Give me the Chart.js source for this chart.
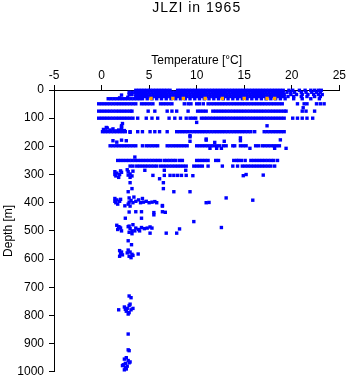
<!DOCTYPE html>
<html>
<head>
<meta charset="utf-8">
<script src="https://cdn.jsdelivr.net/npm/chart.js@4/dist/chart.umd.min.js"></script>
<style>
  html, body { margin: 0; padding: 0; background: #fff; }
  #wrap { width: 348px; height: 384px; }
</style>
</head>
<body>
<div id="wrap"><canvas id="chart"></canvas></div>
<script>
const plotTitle = 'JLZI in 1965'
const xTitle = 'Temperature [°C]'
const yTitle = 'Depth [m]'

// standard sampling depths (m) and the temperatures read along each streak
const rowDepths = [1, 8, 16, 23, 31, 49, 75, 100, 148, 198, 207, 250, 270]
const rowTemps = [
  [3.6,3.9,4.2,4.5,4.8,5.1,5.4,5.7,6.0,6.3,6.6,6.9,7.2,8.0,8.3,8.6,8.9,9.2,9.5,9.8,10.1,10.4,10.7,11.0,11.3,11.6,11.9,12.2,12.5,12.8,13.1,13.4,13.7,14.0,14.3,14.6,14.9,15.2,15.5,15.8,16.1,16.4,16.7,17.0,17.3,17.6,17.9,18.2,18.5,18.8,19.1,19.7,20.1,20.8,21.4,22.0,22.4,22.8,23.1],
  [2.9,3.2,3.5,3.8,4.1,4.4,4.7,5.0,5.3,5.6,5.9,6.2,6.5,6.8,7.1,7.4,7.7,8.0,8.3,8.6,8.9,9.2,9.5,9.8,10.1,10.4,10.7,11.0,11.3,11.6,11.9,12.2,12.5,12.8,13.1,13.4,13.7,14.0,14.3,14.6,14.9,15.2,15.5,15.8,16.1,16.4,16.7,17.0,17.3,17.6,17.9,18.2,18.5,18.8,19.1,19.5,19.9,20.3,21.0,21.5,22.1,22.6,23.0],
  [2.9,3.2,3.6,3.9,4.2,4.5,4.8,5.1,5.4,5.7,6.0,6.3,6.6,6.9,7.2,7.5,7.8,8.1,8.4,8.7,9.0,9.3,9.6,9.9,10.2,10.5,10.8,11.1,11.4,11.7,12.0,12.3,12.6,12.9,13.2,13.5,13.8,14.1,14.4,14.7,15.0,15.3,15.6,15.9,16.2,16.5,16.8,17.1,17.4,17.7,18.0,18.3,18.6,18.9,19.2,19.9,20.5,21.1,21.7,22.3,22.8,23.2],
  [3.6,3.9,4.2,4.5,4.8,5.1,5.4,5.7,6.0,6.3,6.6,6.9,7.2,7.5,7.8,8.1,8.4,8.7,9.0,9.3,9.6,9.9,10.2,10.5,10.8,11.1,11.4,11.7,12.0,12.3,12.6,12.9,13.2,13.5,13.8,14.1,14.4,14.7,15.0,15.3,15.6,15.9,16.2,16.5,16.8,17.1,17.4,17.7,18.0,18.3,18.6,18.9,19.2,19.6,20.2,21.0,21.6,22.4,23.0],
  [0.7,1.0,1.3,1.6,1.9,2.2,2.5,2.8,3.1,3.4,3.7,4.0,4.3,4.8,5.3,5.8,6.3,6.8,7.3,7.8,8.3,8.8,9.3,9.8,10.3,10.8,11.3,11.8,12.3,12.8,13.3,13.8,14.3,14.8,15.3,15.8,16.3,16.8,17.3,17.8,18.3,18.8,19.3,20.2,21.1,22.0,22.9],
  [-0.3,0.0,0.3,0.6,0.9,1.2,1.5,1.8,2.1,2.4,2.7,3.0,3.3,3.6,4.2,4.5,4.8,5.1,5.4,6.2,6.5,6.8,7.1,7.4,8.7,9.1,9.4,10.0,10.3,10.7,11.2,11.5,11.8,12.1,12.4,12.7,13.0,13.3,13.6,13.9,14.2,14.5,14.8,15.1,15.4,15.7,16.0,16.3,16.6,16.9,17.2,17.5,17.8,18.1,18.4,18.7,19.0,20.6,21.3,21.6,22.6,23.0,23.4],
  [-0.3,0.0,0.3,0.6,0.9,1.2,1.5,1.8,2.1,2.4,2.7,3.0,3.2,4.9,5.6,6.9,7.4,7.9,9.1,10.1,10.4,10.7,11.0,11.7,12.0,12.3,12.6,12.9,13.2,13.5,13.8,14.1,14.4,14.7,15.0,15.3,15.6,15.9,16.2,16.5,16.8,17.1,17.4,17.7,18.0,18.3,18.6,18.9,19.2,19.4,21.1,21.5,22.4],
  [-0.3,0.0,0.3,0.6,0.9,1.2,1.5,1.8,2.1,2.4,2.7,3.0,3.3,3.8,4.7,5.3,5.9,7.1,7.7,8.3,8.9,9.3,9.6,9.9,10.5,10.8,11.1,11.4,11.7,12.0,12.3,12.6,12.9,13.2,13.5,13.8,14.1,14.4,14.7,15.0,15.3,15.6,15.9,16.2,16.5,16.8,17.1,17.4,17.7,18.0,18.3,18.6,18.9,19.2,20.1,20.6,21.1,21.6,22.2],
  [0.1,0.4,0.7,1.0,1.3,1.6,1.9,2.2,2.5,3.0,3.8,4.3,5.1,5.6,6.1,6.9,7.9,8.2,8.5,8.8,9.1,9.4,9.7,10.0,10.3,10.6,10.9,11.2,11.5,11.8,12.1,12.4,12.7,13.0,13.3,13.6,13.9,14.2,14.5,14.8,15.1,15.4,15.7,16.1,17.1,17.4,17.7,18.0,18.3,18.6,18.9,19.2],
  [0.9,1.2,1.5,1.8,2.1,2.4,2.7,3.0,3.3,3.6,4.3,4.7,5.0,5.3,5.6,5.9,6.9,7.2,7.5,7.8,8.1,8.4,8.7,9.0,10.0,10.3,10.6,10.9,11.2,11.5,11.8,12.1,12.4,12.8,13.1,13.8,14.0,14.6,14.9,15.2,16.2,16.5,16.9,17.2,17.5,17.8,18.1,18.4,18.7],
  [11.4,12.1,12.6,15.6,18.2,19.4],
  [1.7,2.0,2.3,2.6,2.9,3.2,3.5,3.8,4.1,4.4,4.7,5.0,5.3,5.6,5.9,6.2,6.6,6.9,7.2,7.5,7.8,8.2,8.5,10.0,10.3,10.6,10.9,11.2,12.0,12.3,13.9,14.2,14.4,14.7,15.1,15.7,16.0,16.3,16.6,16.9,17.2,17.5,17.8,18.1,18.5],
  [3.0,3.3,3.7,4.0,4.3,4.6,4.9,5.2,5.5,5.8,6.2,6.5,6.8,7.1,7.4,7.7,8.0,8.3,8.6,8.9,9.7,10.0,10.3,10.6,11.2,12.7,13.8,14.3,14.8,15.1,15.4,15.7,16.0,16.3,16.6,16.9,17.2,17.5,17.8,18.2]
]

// single casts away from the standard depths: [temperature, depth]
const loosePoints = [
  [2.1,18],[3.15,16],[1.9,28],[2.76,26],[21.2,63],
  [2.2,119],[10.0,115],[17.4,127],
  [0.2,140],[0.4,145],[0.6,135],[0.9,142],[1.2,138],[1.5,145],[1.8,142],[2.1,136],[2.4,144],[2.1,131],[0.5,133],[2.1,127],[3.0,150],
  [9.3,162],[11.0,174],[11.9,186],[1.2,180],[1.6,185],[2.6,180],[9.3,182],[11.0,178],[12.9,182],[14.6,170],[14.6,180],[18.8,177],[9.3,166],[2.1,178],
  [3.5,238],
  [1.4,290],[1.6,295],[1.9,300],[2.1,292],[1.5,305],[1.8,310],[2.0,287],[1.4,300],
  [2.8,290],[3.0,298],[3.2,305],[2.8,302],[3.3,288],[3.0,310],[2.7,283],
  [4.55,285],[6.6,285],[8.85,285],[5.4,303],[6.6,303],[7.2,303],[7.6,303],[8.0,303],[8.4,303],[8.9,303],[9.6,304],[14.9,304],[15.2,300],[17.0,302],
  [6.1,315],[3.0,329],[6.5,329],[3.2,350],[6.5,350],[2.8,361],[7.6,361],[9.3,361],
  [1.4,385],[1.6,390],[1.9,395],[1.5,400],[2.0,388],[1.7,405],[1.4,395],[2.9,398],[3.1,392],[3.3,400],[2.8,405],[3.6,395],[3.9,390],[4.1,400],
  [4.4,398],[4.7,395],[5.0,400],[5.3,398],[5.6,396],[5.8,400],[4.3,385],[3.4,380],[2.9,383],[6.4,410],[11.0,400],[11.3,399],[13.1,383],[15.9,391],
  [2.45,411],[3.0,412],[6.4,412],[2.9,433],[3.6,432],[4.2,432],[5.5,435],[6.4,432],[6.7,434],[5.5,443],[2.5,455],[4.2,455],[9.7,467],
  [1.6,480],[1.8,485],[2.0,490],[1.7,495],[2.1,500],[1.9,487],[2.8,485],[3.0,492],[3.2,500],[2.9,505],[3.3,478],[3.6,490],[3.9,495],[4.2,488],
  [4.5,492],[4.8,490],[5.1,486],[5.3,490],[3.5,500],[4.0,500],[3.2,510],[2.9,483],[8.2,493],[12.6,488],[5.1,508],[6.8,508],[7.9,508],
  [2.8,535],[3.15,549],
  [1.9,570],[2.1,575],[2.0,580],[2.2,585],[1.9,590],[2.8,568],[3.0,575],[3.2,583],[2.9,590],[3.1,595],[3.3,587],[2.7,578],[3.85,582],
  [2.9,731],[3.1,737],[1.8,780],[2.4,770],[2.7,775],[2.9,765],[3.1,780],[3.3,775],[2.6,785],[2.9,790],[2.8,795],[2.5,778],[3.0,760],
  [2.8,866],[2.8,922],[2.9,925],
  [2.4,955],[2.6,950],[2.8,960],[3.0,965],[2.5,970],[2.3,975],[2.7,980],[2.5,985],[2.6,990],[2.4,993],[2.9,968],[2.2,978]
]

// flagged casts drawn in orange
const orangeTemps = [5.2, 7.5, 8.6, 10.9, 12.7, 15.0, 17.4, 18.2]
const orangeDepths = [30, 30, 30, 30, 30, 30, 30, 30]

const bluePoints = []
rowDepths.forEach((d, i) => rowTemps[i].forEach(t => bluePoints.push({ x: t, y: d })))
loosePoints.forEach(([t, d]) => bluePoints.push({ x: t, y: d }))
const orangePoints = orangeTemps.map((t, i) => ({ x: t, y: orangeDepths[i] }))

Chart.defaults.font.family = '"Liberation Sans", Arial, sans-serif'
Chart.defaults.color = '#000'

// main title centred over the plot area, like the original
const titlePlugin = {
  id: 'plotTitle',
  afterDraw(chart) {
    const { ctx, chartArea } = chart
    ctx.save()
    ctx.font = '14px "Liberation Sans", Arial, sans-serif'
    ctx.letterSpacing = '1px'
    ctx.fillStyle = '#000'
    ctx.textAlign = 'center'
    ctx.textBaseline = 'middle'
    ctx.fillText(plotTitle, (chartArea.left + chartArea.right) / 2, 8)
    ctx.restore()
  }
}

const axisGrid = { drawOnChartArea: false, drawTicks: true, tickLength: 5, color: '#000', lineWidth: 1 }
const axisBorder = { display: true, color: '#000', width: 1 }

new Chart(document.getElementById('chart'), {
  type: 'scatter',
  data: {
    datasets: [
      {
        data: bluePoints,
        order: 1,
        pointStyle: 'rect',
        pointRadius: 2.4,
        borderWidth: 0,
        backgroundColor: '#0000ff',
        clip: false
      },
      {
        // lower order is painted last, so the orange casts sit on top
        data: orangePoints,
        order: 0,
        pointStyle: 'rect',
        pointRadius: 2.4,
        borderWidth: 0,
        backgroundColor: '#ffa500',
        clip: false
      }
    ]
  },
  options: {
    responsive: true,
    maintainAspectRatio: false,
    animation: false,
    events: [],
    layout: { padding: { top: 0, left: 0, right: 8, bottom: 9 } },
    plugins: { legend: { display: false }, tooltip: { enabled: false }, title: { display: false } },
    scales: {
      x: {
        type: 'linear',
        position: 'top',
        min: -5,
        max: 25,
        ticks: { stepSize: 5, padding: 2, font: { size: 12 } },
        grid: axisGrid,
        border: axisBorder,
        title: { display: true, text: xTitle, font: { size: 12 }, padding: { top: 53, bottom: 0 } },
        afterFit: s => { s.height = 90 }
      },
      y: {
        type: 'linear',
        reverse: true,
        min: 0,
        max: 1000,
        ticks: { stepSize: 100, padding: 5, font: { size: 12 }, callback: v => String(v) },
        grid: axisGrid,
        border: axisBorder,
        title: { display: true, text: yTitle, font: { size: 12 }, padding: { top: 1, bottom: 0 } },
        afterFit: s => { s.width = 54 }
      }
    }
  },
  plugins: [titlePlugin]
})
</script>
</body>
</html>
